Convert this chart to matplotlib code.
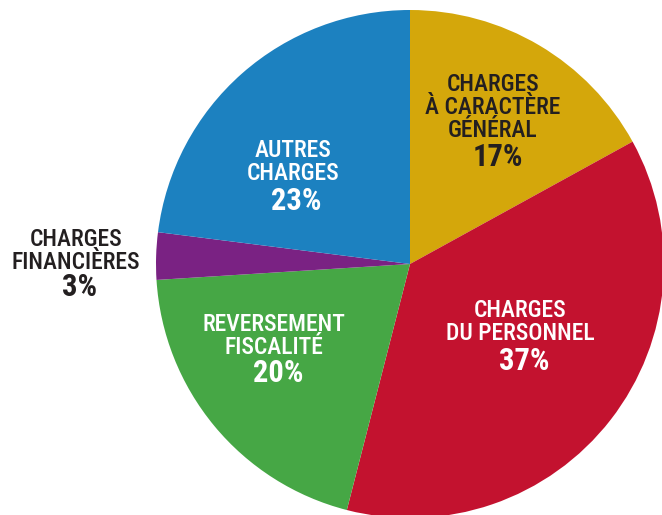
import matplotlib.pyplot as plt

# Data
labels = ["CHARGES\nÀ CARACTÈRE\nGÉNÉRAL", "CHARGES\nDU PERSONNEL", "REVERSEMENT\nFISCALITÉ",
          "CHARGES\nFINANCIÈRES", "AUTRES\nCHARGES"]
values = [17, 37, 20, 3, 23]
colors = ["#D4A70B", "#C3122F", "#46A745", "#7A2283", "#1C81C0"]
text_colors = ["#231F20", "white", "white", "#231F20", "white"]

# layout: x centre of text, baselines of each line (pixels from top), pct baseline
text_x = [493, 520, 274, 76, 293]
line_base = [[91, 114, 137], [317, 340], [331, 354], [246, 269], [157, 180]]
pct_base = [166, 370, 382, 296, 210]
pct_dx = [5, 4, 4, 4, 3]

W, H = 662, 515
fig = plt.figure(figsize=(W / 100, H / 100), dpi=100)
ax = fig.add_axes([0, 0, 1, 1])

ax.pie(values, colors=colors, startangle=90, counterclock=False,
       center=(410, H - 264), radius=254, frame=True,
       wedgeprops=dict(linewidth=0))
ax.set_xlim(0, W)
ax.set_ylim(0, H)
ax.set_aspect("equal")
ax.axis("off")

font = ["Roboto Condensed", "DejaVu Sans Condensed", "Liberation Sans Narrow", "Roboto", "DejaVu Sans"]
for lab, v, x, bases, pb, dx, tc in zip(labels, values, text_x, line_base, pct_base, pct_dx, text_colors):
    for ln, b in zip(lab.split("\n"), bases):
        ax.text(x, H - b, ln, ha="center", va="baseline",
                fontsize=17, fontweight="medium", color=tc, family=font)
    ax.text(x + dx, H - pb, f"{v}%", ha="center", va="baseline",
            fontsize=22, fontweight="semibold", color=tc, family=font)

fig.savefig("out.png", dpi=100)
